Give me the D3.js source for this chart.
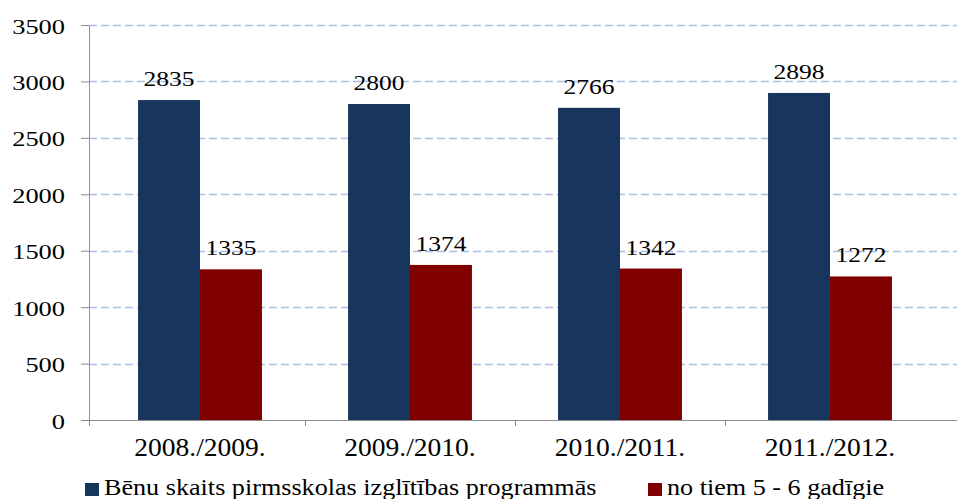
<!DOCTYPE html>
<html>
<head>
<meta charset="utf-8">
<script src="https://cdn.jsdelivr.net/npm/d3@7"></script>
<style>
  body { margin: 0; background: #fff; }
  svg { display: block; }
  text { font-family: "Liberation Serif", "Times New Roman", serif; fill: #000; }
</style>
</head>
<body>
<div class="chart"></div>
<script>
// dati no attēla
const years = ['2008./2009.', '2009./2010.', '2010./2011.', '2011./2012.'];
const totalKids = [2835, 2800, 2766, 2898];
const kids56 = [1335, 1374, 1342, 1272];
const seriesNames = ['Bēnu skaits pirmsskolas izglītības programmās', 'no tiem 5 - 6 gadīgie'];
const seriesColors = ['#18365d', '#800000'];
const yTicks = [0, 500, 1000, 1500, 2000, 2500, 3000, 3500];

const svg_width = 957, svg_height = 499;

const svg = d3.select('.chart').append('svg')
  .attr('width', svg_width).attr('height', svg_height);

const axisLeftX = 89;
const yScale = d3.scaleLinear().domain([0, 3500]).range([420, 25]);
const x0 = d3.scaleBand().domain(years).range([95, 935])
  .paddingInner(0.41).paddingOuter(0.205);
const x1 = d3.scaleBand().domain([0, 1]).range([0, x0.bandwidth()]);

const data = years.map((y, i) => ({year: y, values: [totalKids[i], kids56[i]]}));

// teksts attēlā ir nedaudz izstiepts horizontāli
function putText(sel, x, y, anchor, sx) {
  sel.attr('transform', `translate(${x},${y}) scale(${sx},1)`)
     .style('text-anchor', anchor);
}

// režģa līnijas
svg.append('g').attr('class', 'grid')
  .selectAll('line').data(yTicks.filter(d => d > 0)).enter()
  .append('line')
  .attr('x1', axisLeftX).attr('x2', svg_width)
  .attr('y1', d => Math.round(yScale(d)) + 0.5).attr('y2', d => Math.round(yScale(d)) + 0.5)
  .style('stroke', '#a9bfe3').style('stroke-width', 1.3)
  .style('stroke-dasharray', '8,4');

// stabiņi
const groups = svg.append('g').selectAll('.grp').data(data).enter()
  .append('g').attr('class', 'grp')
  .attr('transform', d => `translate(${x0(d.year)},0)`);

groups.selectAll('rect').data(d => d.values.map((v, k) => ({k, v}))).enter()
  .append('rect')
  .attr('x', d => x1(d.k))
  .attr('width', x1.bandwidth())
  .attr('y', d => yScale(d.v))
  .attr('height', d => yScale(0) - yScale(d.v))
  .style('fill', d => seriesColors[d.k]);

// vērtību etiķetes
groups.each(function(d) {
  const g = d3.select(this);
  d.values.forEach((v, k) => {
    g.append('text').text(v)
      .style('font-size', '22px')
      .call(putText, x1(k) + x1.bandwidth() / 2, yScale(v) - 14, 'middle', 1.16);
  });
});

// Y ass
const yAxis = d3.axisLeft(yScale).tickValues(yTicks).tickFormat(d3.format('d'))
  .tickSizeInner(8).tickSizeOuter(0);
const yG = svg.append('g').attr('transform', `translate(${axisLeftX},0)`).call(yAxis);
yG.select('.domain').style('stroke', '#8c8c8c');
yG.selectAll('.tick line').style('stroke', '#8c8c8c');
yG.selectAll('.tick text').attr('x', null).attr('dy', null)
  .style('font-size', '22px').style('font-family', '"Liberation Serif", serif')
  .each(function() { d3.select(this).call(putText, -24, 8, 'end', 1.2); });

// X ass
const xG = svg.append('g').attr('class', 'x axis');
xG.append('line')
  .attr('x1', axisLeftX).attr('x2', svg_width)
  .attr('y1', yScale(0) + 0.5).attr('y2', yScale(0) + 0.5)
  .style('stroke', '#8c8c8c');
const bounds = [axisLeftX].concat(years.slice(1).map(y => x0(y) - x0.step() * x0.paddingInner() / 2));
xG.selectAll('.xt').data(bounds).enter().append('line')
  .attr('x1', d => Math.round(d) + 0.5).attr('x2', d => Math.round(d) + 0.5)
  .attr('y1', yScale(0)).attr('y2', yScale(0) + 6)
  .style('stroke', '#8c8c8c');
xG.selectAll('.xl').data(years).enter().append('text')
  .text(d => d)
  .style('font-size', '25px')
  .each(function(d) { d3.select(this).call(putText, x0(d) + x0.bandwidth() / 2, 456, 'middle', 1.1); });

// leģenda
const legendX = [85, 648];
const legend = svg.append('g').attr('class', 'legend');
seriesNames.forEach((name, k) => {
  legend.append('rect')
    .attr('x', legendX[k]).attr('y', 483).attr('width', 14).attr('height', 13)
    .style('fill', seriesColors[k]);
  legend.append('text').text(name)
    .style('font-size', '24px')
    .call(putText, legendX[k] + 19, 495, 'start', 1.09);
});
</script>
</body>
</html>
